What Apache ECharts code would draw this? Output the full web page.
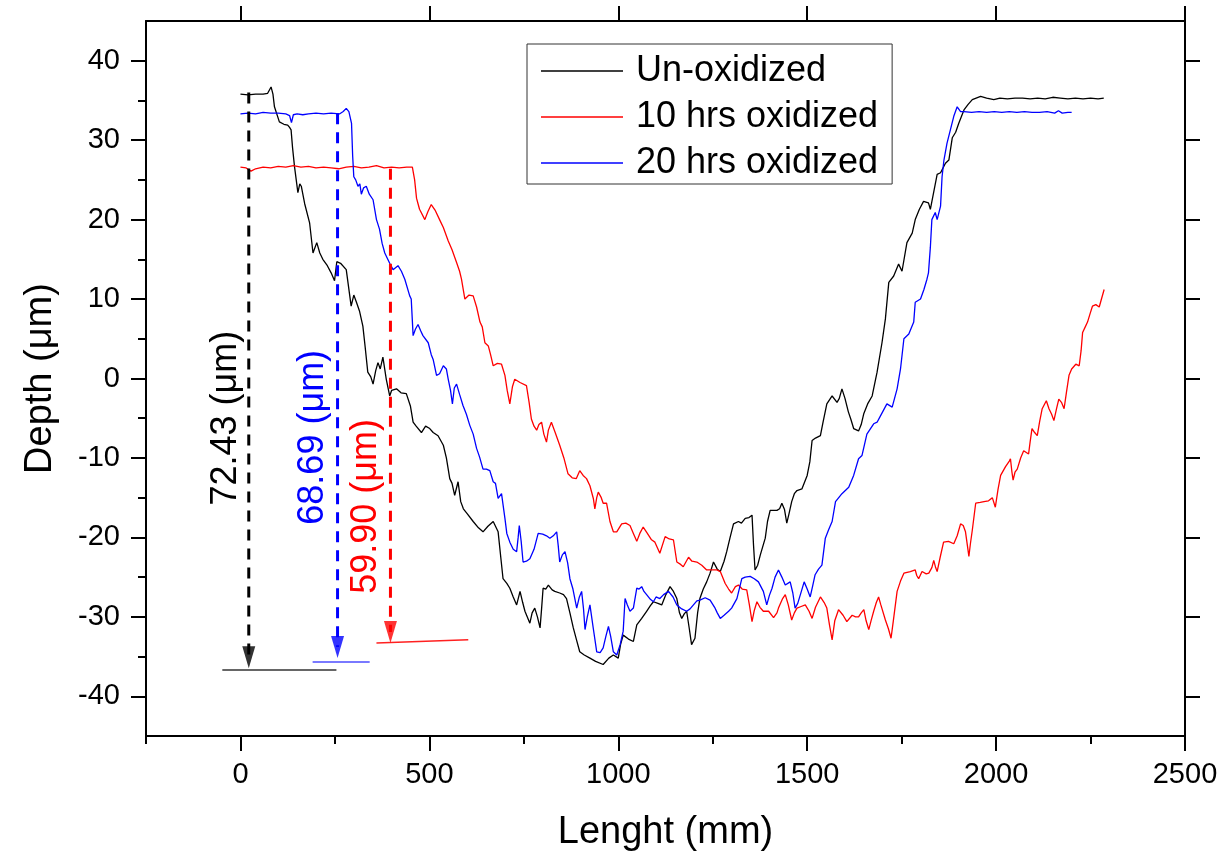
<!DOCTYPE html>
<html>
<head>
<meta charset="utf-8">
<script src="https://cdn.jsdelivr.net/npm/echarts@6/dist/echarts.min.js"></script>
<style>
html,body{margin:0;padding:0;background:#fff;}
#chart{width:1224px;height:857px;}
</style>
</head>
<body>
<div id="chart"></div>
<script>
// ---------------- DATA ----------------
const seriesNames = ['Un-oxidized', '10 hrs oxidized', '20 hrs oxidized'];

const unOxidized = [[0,35.8],[20,35.7],[40,35.8],[60,35.8],[72,35.9],[81,36.7],[86,35.8],[90,34.2],[103,32.3],[115,32.0],[125,31.9],[130,31.6],[134,31.3],[138,29],[143,26.7],[152,23.4],[157,24.5],[161,24.2],[170,22],[183,19.6],[192,15.8],[202,17.1],[210,15.8],[218,15.0],[230,14.2],[240,13.3],[249,12.3],[255,14.7],[265,14.5],[280,13.7],[293,9.1],[300,10.5],[307,9.6],[315,8.5],[324,6.6],[330,4],[337,0.8],[345,0.2],[351,-0.7],[358,1.0],[364,2.0],[370,1.2],[377,2.7],[386,-0.1],[395,-2.2],[400,-1.5],[413,-1.3],[425,-1.8],[439,-1.9],[450,-3.5],[457,-5.5],[465,-6.0],[479,-6.8],[490,-6.0],[501,-6.3],[510,-6.8],[523,-7.2],[537,-8.4],[545,-10],[554,-12.6],[560,-13.2],[567,-14.7],[576,-13.0],[583,-15.5],[590,-16.4],[600,-17.0],[616,-18.0],[630,-18.8],[642,-19.3],[655,-18.6],[669,-18.0],[682,-19.3],[689,-22.5],[695,-25.2],[705,-25.8],[713,-26.4],[722,-27.5],[731,-28.5],[740,-26.8],[747,-28.2],[753,-29.3],[766,-30.8],[772,-29.5],[779,-28.9],[786,-30.0],[793,-31.4],[797,-29],[801,-26.4],[808,-26.5],[815,-26.0],[825,-26.6],[832,-26.8],[845,-27.0],[855,-27.2],[863,-27.7],[872,-29.5],[881,-31.4],[890,-33.0],[898,-34.4],[910,-34.8],[925,-35.2],[940,-35.6],[960,-36.0],[975,-35.2],[987,-34.8],[1000,-35.2],[1006,-33.5],[1013,-32.3],[1027,-32.8],[1040,-33.1],[1049,-31.0],[1062,-30.2],[1075,-29.3],[1085,-28.6],[1093,-28.1],[1105,-28.3],[1115,-28.5],[1126,-27.2],[1137,-26.2],[1146,-26.8],[1155,-27.7],[1162,-29.5],[1168,-30.2],[1175,-29.6],[1181,-29.3],[1188,-31.5],[1194,-33.5],[1203,-32.7],[1210,-29.5],[1216,-27.7],[1225,-26.5],[1234,-25.6],[1243,-24.5],[1252,-23.1],[1262,-24.0],[1270,-24.3],[1280,-23.0],[1287,-21.8],[1296,-20.0],[1305,-18.3],[1318,-18.0],[1326,-18.2],[1336,-17.6],[1346,-17.5],[1354,-17.2],[1358,-21],[1362,-24.1],[1369,-23.5],[1376,-22.2],[1389,-20.1],[1395,-18],[1402,-16.6],[1420,-16.6],[1427,-16.4],[1433,-15.7],[1440,-16.5],[1446,-18.2],[1452,-17.0],[1459,-15.5],[1466,-14.5],[1473,-14.1],[1486,-13.9],[1500,-12.2],[1507,-10.5],[1513,-7.8],[1522,-7.5],[1535,-7.2],[1542,-5.5],[1552,-3.2],[1566,-2.2],[1579,-3.0],[1585,-2.5],[1592,-1.3],[1600,-2.5],[1609,-4.2],[1616,-5.2],[1623,-6.3],[1636,-6.6],[1643,-5.8],[1650,-4.4],[1660,-3.2],[1672,-2.2],[1685,0.8],[1698,4.5],[1707,7.5],[1716,12.1],[1729,12.9],[1742,14.4],[1751,13.5],[1764,17.1],[1778,18.3],[1786,20.0],[1797,21.3],[1808,22.3],[1821,22.1],[1826,21.3],[1835,23.5],[1844,25.7],[1853,25.9],[1866,27.1],[1875,27.5],[1884,30.3],[1893,31.0],[1901,32.1],[1915,33.8],[1926,34.5],[1937,35.1],[1959,35.5],[1975,35.3],[1994,35.1],[2010,35.3],[2030,35.2],[2050,35.3],[2070,35.3],[2090,35.2],[2110,35.3],[2130,35.2],[2150,35.4],[2170,35.3],[2190,35.2],[2210,35.3],[2230,35.2],[2250,35.3],[2270,35.2],[2285,35.3]];

const oxidized10 = [[0,26.6],[15,26.5],[28,26.1],[40,26.4],[60,26.6],[80,26.5],[100,26.7],[120,26.6],[140,26.8],[160,26.6],[180,26.7],[200,26.5],[220,26.6],[240,26.5],[260,26.4],[280,26.6],[300,26.7],[320,26.5],[340,26.6],[360,26.8],[380,26.5],[400,26.6],[420,26.5],[440,26.6],[455,26.6],[461,25.0],[466,22.7],[470,22.0],[474,21.3],[479,21.5],[488,20.0],[496,21.0],[505,21.9],[515,21.2],[527,20.0],[537,19.0],[550,17.3],[560,16.2],[572,14.6],[580,13.5],[585,12.5],[594,10.0],[605,10.5],[616,10.4],[625,9.0],[634,7.1],[640,6.5],[647,4.5],[656,4.1],[662,3.0],[669,1.6],[680,1.9],[691,1.8],[700,0.4],[706,-1.5],[713,-3.2],[720,-1.0],[726,-0.1],[740,-0.5],[757,-0.9],[764,-3.0],[770,-5.1],[777,-6.0],[784,-6.5],[790,-5.8],[797,-5.5],[803,-7.0],[810,-8.0],[815,-6.5],[823,-5.5],[833,-6.8],[845,-8.4],[856,-10.0],[867,-12.0],[878,-12.5],[889,-12.6],[898,-11.6],[907,-12.2],[916,-12.6],[925,-13.5],[934,-15.1],[938,-16.4],[943,-15.0],[947,-14.3],[955,-15.0],[960,-15.7],[969,-15.7],[978,-18.0],[987,-19.3],[996,-19.3],[1009,-18.3],[1020,-18.2],[1031,-18.5],[1040,-19.5],[1049,-20.5],[1057,-19.5],[1066,-18.7],[1077,-19.5],[1088,-20.3],[1097,-20.6],[1110,-22.0],[1115,-21.8],[1124,-19.9],[1135,-20.2],[1146,-20.3],[1155,-23.1],[1165,-23.4],[1172,-23.7],[1186,-22.5],[1195,-23.0],[1208,-23.1],[1221,-23.5],[1234,-24.1],[1243,-24.1],[1261,-24.1],[1270,-24.3],[1283,-25.8],[1292,-26.5],[1300,-27.0],[1310,-26.2],[1318,-26.0],[1328,-26.5],[1340,-26.6],[1347,-28.5],[1354,-30.6],[1360,-29.2],[1367,-28.1],[1375,-28.8],[1384,-29.3],[1398,-29.3],[1411,-30.1],[1420,-29.5],[1424,-28.9],[1435,-27.7],[1442,-27.2],[1450,-28.5],[1459,-30.4],[1466,-29.5],[1473,-28.9],[1484,-28.7],[1495,-28.5],[1505,-29.3],[1513,-30.2],[1522,-28.8],[1535,-27.5],[1545,-28.2],[1552,-28.9],[1559,-31.0],[1566,-32.9],[1573,-30.5],[1583,-29.1],[1595,-29.8],[1605,-30.6],[1619,-29.8],[1628,-30.0],[1636,-30.0],[1643,-29.5],[1650,-29.1],[1656,-30.5],[1663,-31.6],[1669,-30.5],[1676,-29.3],[1683,-28.2],[1689,-27.5],[1695,-28.5],[1707,-30.4],[1715,-31.5],[1722,-32.7],[1728,-30.5],[1738,-26.8],[1747,-25.5],[1756,-24.5],[1773,-24.3],[1786,-24.1],[1790,-24.8],[1795,-25.2],[1804,-24.3],[1815,-24.6],[1822,-24.5],[1830,-23.8],[1835,-22.9],[1840,-23.8],[1844,-24.3],[1852,-22.5],[1861,-20.6],[1874,-20.5],[1888,-20.8],[1897,-19.8],[1906,-18.3],[1913,-18.5],[1919,-19.3],[1924,-21.0],[1928,-22.4],[1932,-20.8],[1937,-19.1],[1946,-15.7],[1958,-15.6],[1968,-15.5],[1980,-15.4],[1990,-15.0],[1994,-15.1],[1998,-16.2],[2005,-14.0],[2012,-12.2],[2025,-11.1],[2035,-10.4],[2038,-10.1],[2042,-11.8],[2045,-12.8],[2050,-11.8],[2056,-11.4],[2065,-10.0],[2073,-9.1],[2086,-9.5],[2090,-8.0],[2095,-6.3],[2102,-6.8],[2109,-7.2],[2115,-5.5],[2122,-3.8],[2133,-2.8],[2140,-3.8],[2147,-4.5],[2153,-5.3],[2160,-3.8],[2166,-2.6],[2173,-3.0],[2180,-3.8],[2186,-1.8],[2193,0.4],[2200,1.2],[2211,1.8],[2220,1.6],[2225,3.5],[2229,5.8],[2236,6.5],[2242,7.1],[2249,8.2],[2255,9.1],[2264,9.3],[2273,9.0],[2280,10.2],[2286,11.2]];

const oxidized20 = [[0,33.3],[20,33.4],[40,33.3],[60,33.5],[80,33.4],[100,33.4],[120,33.3],[130,33.1],[135,32.2],[140,33.2],[150,33.3],[165,33.2],[180,33.3],[200,33.4],[220,33.3],[240,33.4],[262,33.3],[272,33.6],[280,34.0],[287,33.6],[294,32.1],[297,28],[300,25.4],[305,25.0],[311,24.2],[316,24.5],[320,23.2],[326,24.0],[333,24.2],[341,23.2],[351,22.5],[360,20.0],[368,18.8],[375,17.0],[382,15.8],[386,16.0],[395,14.5],[404,13.7],[408,13.7],[417,14.2],[426,13.5],[435,12.5],[448,10.4],[452,10.0],[457,5.4],[463,6.2],[470,6.8],[477,6.0],[483,5.4],[497,4.5],[505,3.0],[510,2.4],[519,0.4],[527,0.6],[537,1.6],[545,1.2],[550,-0.1],[556,-1.5],[561,-3.2],[566,-1.2],[572,-0.7],[580,-2.0],[589,-3.4],[598,-4.5],[607,-5.9],[616,-7.0],[625,-8.8],[633,-9.9],[642,-11.4],[651,-11.4],[660,-11.6],[669,-13.0],[675,-13.2],[682,-15.1],[691,-14.5],[700,-17.6],[705,-19.5],[713,-20.6],[722,-21.5],[731,-21.8],[735,-20],[738,-18.5],[743,-20.5],[748,-23.1],[757,-23.0],[766,-22.7],[777,-21.5],[788,-19.5],[800,-19.6],[810,-19.8],[819,-20.1],[828,-19.8],[837,-19.3],[841,-21],[845,-23.1],[852,-22.2],[859,-21.8],[866,-23.2],[872,-25.2],[880,-26.5],[890,-28.9],[897,-27.5],[903,-26.8],[908,-29.0],[912,-31.6],[918,-30.0],[925,-28.5],[934,-31.5],[943,-34.4],[952,-34.5],[960,-33.9],[967,-32.5],[974,-31.2],[980,-32.5],[987,-34.4],[996,-34.8],[1005,-33.5],[1013,-31.8],[1018,-27.7],[1024,-28.5],[1031,-29.3],[1040,-28.9],[1049,-26.4],[1055,-26.5],[1062,-26.2],[1068,-26.8],[1075,-27.2],[1085,-27.8],[1093,-28.1],[1100,-27.5],[1110,-27.7],[1120,-27.2],[1133,-26.8],[1145,-27.5],[1155,-28.5],[1168,-29.0],[1181,-29.3],[1190,-29.0],[1199,-28.5],[1208,-28.0],[1216,-27.9],[1230,-27.6],[1243,-27.9],[1255,-28.8],[1262,-29.5],[1270,-30.2],[1280,-29.8],[1292,-29.3],[1300,-28.9],[1314,-27.7],[1327,-25.2],[1336,-25.0],[1349,-24.9],[1360,-25.2],[1371,-25.6],[1384,-26.8],[1393,-28.5],[1400,-27.3],[1407,-26.4],[1415,-25.0],[1424,-24.1],[1433,-25.0],[1442,-26.0],[1455,-25.6],[1462,-27.0],[1468,-28.9],[1475,-28.3],[1482,-27.2],[1492,-25.6],[1500,-26.5],[1508,-27.5],[1515,-26.0],[1521,-24.7],[1530,-24.0],[1539,-23.5],[1548,-20.1],[1557,-19.0],[1566,-18.0],[1575,-15.5],[1592,-14.5],[1610,-13.7],[1623,-12.2],[1636,-10.1],[1645,-9.7],[1658,-7.0],[1676,-5.7],[1685,-5.5],[1694,-4.7],[1711,-3.2],[1725,-3.6],[1738,-1.3],[1747,1.2],[1756,5.0],[1769,5.6],[1782,7.1],[1786,9.6],[1800,10.0],[1809,11.2],[1817,12.5],[1821,13.3],[1826,16.5],[1830,20.0],[1839,20.9],[1844,20.0],[1853,21.7],[1857,25.4],[1862,27.5],[1870,29.6],[1879,31.3],[1888,33.0],[1897,34.2],[1906,33.6],[1915,33.6],[1935,33.5],[1955,33.6],[1975,33.5],[1995,33.6],[2015,33.5],[2035,33.6],[2055,33.5],[2075,33.6],[2095,33.5],[2115,33.5],[2135,33.6],[2155,33.4],[2165,33.7],[2175,33.4],[2190,33.5],[2200,33.5]];

// depth annotations: [x, top y, arrowhead centre y]
const arrowBlack = [22, 36.0, -35.1];
const arrowBlue  = [257, 33.4, -33.8];
const arrowRed   = [397, 26.4, -31.9];
// reference (bottom) lines: [[x1,y1],[x2,y2]]
const baseBlack = [[-48, -36.7], [254, -36.7]];
const baseBlue  = [[191, -35.7], [342, -35.7]];
const baseRed   = [[360, -33.3], [603, -32.9]];
// rotated depth labels: [x, y, text]
const labelBlack = [-37, -5.0, '72.43 (μm)'];
const labelBlue  = [191, -7.4, '68.69 (μm)'];
const labelRed   = [333, -16.1, '59.90 (μm)'];

// axis ticks
const xMajor = [0, 500, 1000, 1500, 2000, 2500];
const xMinor = [-250, 250, 750, 1250, 1750, 2250];
const yMajor = [-40, -30, -20, -10, 0, 10, 20, 30, 40];
const yMinor = [-35, -25, -15, -5, 5, 15, 25, 35];

const xTitle = 'Lenght (mm)';
const yTitle = 'Depth (μm)';

// ---------------- CHART ----------------
const FONT = 'Liberation Sans, Arial, sans-serif';
const chart = echarts.init(document.getElementById('chart'), null, {renderer: 'canvas'});
const axLine = {show: true, onZero: false, lineStyle: {color: '#000', width: 2}};
const noLine = {show: false, onZero: false};
const plain = v => String(v);

function arrowSeries(a, color) {
  return [{
    type: 'line', data: [[a[0], a[1]], [a[0], a[2]]], symbol: 'none', silent: true,
    lineStyle: {color: color, width: 3, type: [11, 8]}, z: 4
  }, {
    type: 'scatter', data: [[a[0], a[2]]], symbol: 'triangle', symbolRotate: 180,
    symbolSize: [13, 22], itemStyle: {color: color}, silent: true, z: 5
  }];
}
function baseSeries(b, color) {
  return {type: 'line', data: b, symbol: 'none', silent: true, lineStyle: {color: color, width: 1.5}, z: 4};
}
function labelSeries(l, color) {
  return {
    type: 'scatter', data: [[l[0], l[1]]], symbol: 'circle', symbolSize: 2,
    itemStyle: {color: 'rgba(255,255,255,0)'}, silent: true, z: 6,
    label: {show: true, position: 'inside', rotate: 90, formatter: l[2], color: color,
      fontSize: 36, fontFamily: FONT, textBorderWidth: 0, textBorderColor: 'transparent', opacity: 1},
    labelLayout: {hideOverlap: false}
  };
}

const option = {
  animation: false,
  backgroundColor: '#fff',
  grid: {left: 146, right: 39, top: 21, bottom: 119, containLabel: false},
  legend: {
    data: seriesNames,
    orient: 'vertical', left: 527, top: 44,
    itemWidth: 82, itemHeight: 14, itemGap: 10,
    padding: [9, 14, 3, 14],
    borderColor: '#333', borderWidth: 1,
    textStyle: {fontSize: 36, fontFamily: FONT, color: '#000', lineHeight: 36, padding: [0, 0, 0, 8]},
    icon: 'path://M0,0 L100,0 L100,1.6 L0,1.6 Z'
  },
  xAxis: [
    {type: 'value', position: 'bottom', min: -250, max: 2500, axisLine: axLine,
      splitLine: {show: false},
      axisTick: {show: true, inside: false, length: 15, lineStyle: {color: '#000', width: 2}, customValues: xMajor},
      axisLabel: {show: true, customValues: xMajor, formatter: plain, fontSize: 29, fontFamily: FONT, color: '#000', margin: 24},
      name: xTitle, nameLocation: 'middle', nameGap: 78,
      nameTextStyle: {fontSize: 38, fontFamily: FONT, color: '#000'}},
    {type: 'value', position: 'bottom', min: -250, max: 2500, axisLine: noLine,
      splitLine: {show: false},
      axisTick: {show: true, inside: false, length: 8, lineStyle: {color: '#000', width: 2}, customValues: xMinor},
      axisLabel: {show: false}},
    {type: 'value', position: 'top', min: -250, max: 2500, axisLine: axLine,
      splitLine: {show: false},
      axisTick: {show: true, inside: false, length: 15, lineStyle: {color: '#000', width: 2}, customValues: xMajor},
      axisLabel: {show: false}}
  ],
  yAxis: [
    {type: 'value', position: 'left', min: -45, max: 45, axisLine: axLine,
      splitLine: {show: false},
      axisTick: {show: true, inside: false, length: 15, lineStyle: {color: '#000', width: 2}, customValues: yMajor},
      axisLabel: {show: true, customValues: yMajor, formatter: plain, fontSize: 29, fontFamily: FONT, color: '#000', margin: 26},
      name: yTitle, nameLocation: 'middle', nameGap: 86, nameRotate: 90,
      nameTextStyle: {fontSize: 38, fontFamily: FONT, color: '#000'}},
    {type: 'value', position: 'left', min: -45, max: 45, axisLine: noLine,
      splitLine: {show: false},
      axisTick: {show: true, inside: false, length: 8, lineStyle: {color: '#000', width: 2}, customValues: yMinor},
      axisLabel: {show: false}},
    {type: 'value', position: 'right', min: -45, max: 45, axisLine: axLine,
      splitLine: {show: false},
      axisTick: {show: true, inside: false, length: 15, lineStyle: {color: '#000', width: 2}, customValues: yMajor},
      axisLabel: {show: false}}
  ],
  series: [
    {name: seriesNames[0], type: 'line', data: unOxidized, symbol: 'none', lineStyle: {color: '#000000', width: 1.3}, itemStyle: {color: '#000000'}, z: 3},
    {name: seriesNames[1], type: 'line', data: oxidized10, symbol: 'none', lineStyle: {color: '#ff0000', width: 1.3}, itemStyle: {color: '#ff0000'}, z: 3},
    {name: seriesNames[2], type: 'line', data: oxidized20, symbol: 'none', lineStyle: {color: '#0000ff', width: 1.3}, itemStyle: {color: '#0000ff'}, z: 3},
    ...arrowSeries(arrowBlack, '#000000'),
    ...arrowSeries(arrowBlue, '#0000ff'),
    ...arrowSeries(arrowRed, '#ff0000'),
    baseSeries(baseBlack, '#333333'),
    baseSeries(baseBlue, '#4d4dff'),
    baseSeries(baseRed, '#ff2020'),
    labelSeries(labelBlack, '#000000'),
    labelSeries(labelBlue, '#0000ff'),
    labelSeries(labelRed, '#ff0000')
  ]
};
chart.setOption(option);
</script>
</body>
</html>
